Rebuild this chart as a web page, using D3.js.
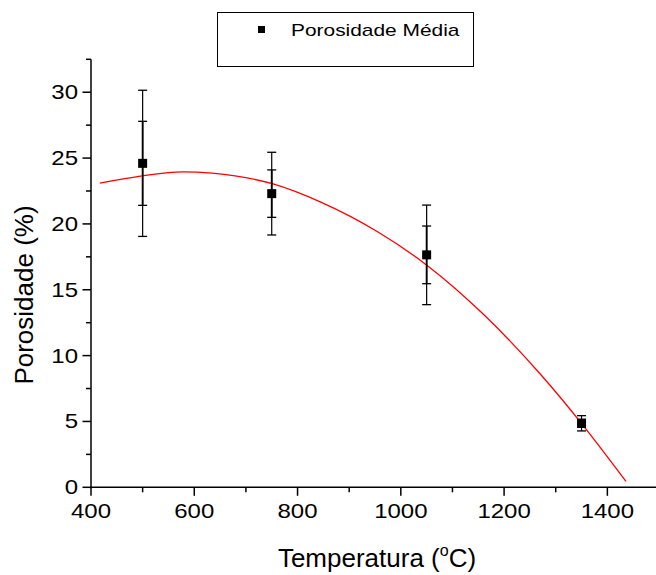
<!DOCTYPE html>
<html>
<head>
<meta charset="utf-8">
<script src="https://cdnjs.cloudflare.com/ajax/libs/d3/7.8.5/d3.min.js"></script>
<style>
  body { margin: 0; background: #fff; }
  svg { display: block; font-family: "Liberation Sans", Arial, sans-serif; }
</style>
</head>
<body>
<svg id="chart" width="656" height="575"></svg>
<script>
// mean porosity per sintering temperature
const temperatures = [500, 750, 1050, 1350];
const porosity = [24.6, 22.3, 17.65, 4.86];
// two sets of error bars drawn on top of each other
const errOuter = [5.55, 3.14, 3.78, 0.58];
const errInner = [3.19, 1.8, 2.19, 0.3];

// red fit line
const fitX = [417, 500, 577, 635, 751, 845, 955, 1051, 1161, 1270, 1354, 1436];
const fitY = [23.1, 23.65, 23.95, 23.85, 23.05, 21.65, 19.4, 16.85, 13.1, 8.6, 4.65, 0.45];

const xTicks = [400, 600, 800, 1000, 1200, 1400];
const xMinor = [500, 700, 900, 1100, 1300, 1500];
const yTicks = [0, 5, 10, 15, 20, 25, 30];
const yMinor = [2.5, 7.5, 12.5, 17.5, 22.5, 27.5, 32.5];

var svg = d3.select("#chart");
var margin = { left: 91, top: 59.3, bottom: 87.7 };
var height = 575 - margin.top - margin.bottom;

var x = d3.scaleLinear().domain([400, 1500]).range([margin.left, margin.left + 568]);
var y = d3.scaleLinear().domain([0, 32.5]).range([margin.top + height, margin.top]);

// tick labels come out a bit wide in the original export
var stretch = 1.2;

// axes
var gx = svg.append("g").attr("transform", "translate(0," + y(0) + ")");
gx.append("line").attr("x1", x(400) - 1).attr("x2", 660).attr("stroke", "#000").attr("stroke-width", 1.5);
gx.selectAll(".maj").data(xTicks).enter().append("line")
  .attr("x1", d => x(d)).attr("x2", d => x(d)).attr("y1", 0).attr("y2", 8.5)
  .attr("stroke", "#000").attr("stroke-width", 1.5);
gx.selectAll(".min").data(xMinor).enter().append("line")
  .attr("x1", d => x(d)).attr("x2", d => x(d)).attr("y1", 0).attr("y2", 5)
  .attr("stroke", "#000").attr("stroke-width", 1.5);
gx.selectAll("text").data(xTicks).enter().append("text")
  .attr("transform", d => "translate(" + x(d) + ",30.5) scale(" + stretch + ",1)")
  .attr("text-anchor", "middle").attr("font-size", 20).attr("fill", "#000")
  .text(d => d);

var gy = svg.append("g").attr("transform", "translate(" + x(400) + ",0)");
gy.append("line").attr("y1", y(0) + 1).attr("y2", y(32.5)).attr("stroke", "#000").attr("stroke-width", 1.5);
gy.selectAll(".maj").data(yTicks).enter().append("line")
  .attr("y1", d => y(d)).attr("y2", d => y(d)).attr("x1", 0).attr("x2", -8.5)
  .attr("stroke", "#000").attr("stroke-width", 1.5);
gy.selectAll(".min").data(yMinor).enter().append("line")
  .attr("y1", d => y(d)).attr("y2", d => y(d)).attr("x1", 0).attr("x2", -5)
  .attr("stroke", "#000").attr("stroke-width", 1.5);
gy.selectAll("text").data(yTicks).enter().append("text")
  .attr("transform", d => "translate(-13," + (y(d) + 7) + ") scale(" + stretch + ",1)")
  .attr("text-anchor", "end").attr("font-size", 20).attr("fill", "#000")
  .text(d => d);

// axis titles
var xt = svg.append("text").attr("x", 377).attr("y", 567)
  .attr("text-anchor", "middle").attr("font-size", 26).attr("fill", "#000");
xt.append("tspan").text("Temperatura (");
xt.append("tspan").attr("font-size", 16).attr("dy", -11).text("o");
xt.append("tspan").attr("dy", 11).text("C)");

svg.append("text")
  .attr("transform", "translate(33,295) rotate(-90)")
  .attr("text-anchor", "middle").attr("font-size", 26).attr("fill", "#000")
  .text("Porosidade (%)");

// fit curve
var line = d3.line().x(d => x(d[0])).y(d => y(d[1])).curve(d3.curveMonotoneX);
svg.append("path")
  .datum(d3.zip(fitX, fitY))
  .attr("d", line)
  .attr("fill", "none").attr("stroke", "#ff0000").attr("stroke-width", 1.3);

// error bars + markers
var pts = svg.append("g").selectAll("g").data(temperatures).enter().append("g");
function bars(err, sw) {
  pts.append("line")
    .attr("x1", d => x(d)).attr("x2", d => x(d))
    .attr("y1", (d, i) => y(porosity[i] + err[i])).attr("y2", (d, i) => y(porosity[i] - err[i]))
    .attr("stroke", "#000").attr("stroke-width", sw);
  [1, -1].forEach(function (s) {
    pts.append("line")
      .attr("x1", d => x(d) - 4.5).attr("x2", d => x(d) + 4.5)
      .attr("y1", (d, i) => y(porosity[i] + s * err[i])).attr("y2", (d, i) => y(porosity[i] + s * err[i]))
      .attr("stroke", "#000").attr("stroke-width", 1.3);
  });
}
bars(errOuter, 1.2);
bars(errInner, 1.8);
pts.append("rect")
  .attr("x", d => x(d) - 4.5).attr("y", (d, i) => y(porosity[i]) - 4.5)
  .attr("width", 9).attr("height", 9).attr("fill", "#000");

// legend
var lg = svg.append("g");
lg.append("rect").attr("x", 217.5).attr("y", 12.5).attr("width", 256).attr("height", 54)
  .attr("fill", "#fff").attr("stroke", "#000").attr("stroke-width", 1);
lg.append("rect").attr("x", 258).attr("y", 26).attr("width", 7).attr("height", 7).attr("fill", "#000");
lg.append("text").attr("transform", "translate(291,35.5) scale(1.23,1)")
  .attr("font-size", 17).attr("fill", "#000").text("Porosidade Média");
</script>
</body>
</html>
